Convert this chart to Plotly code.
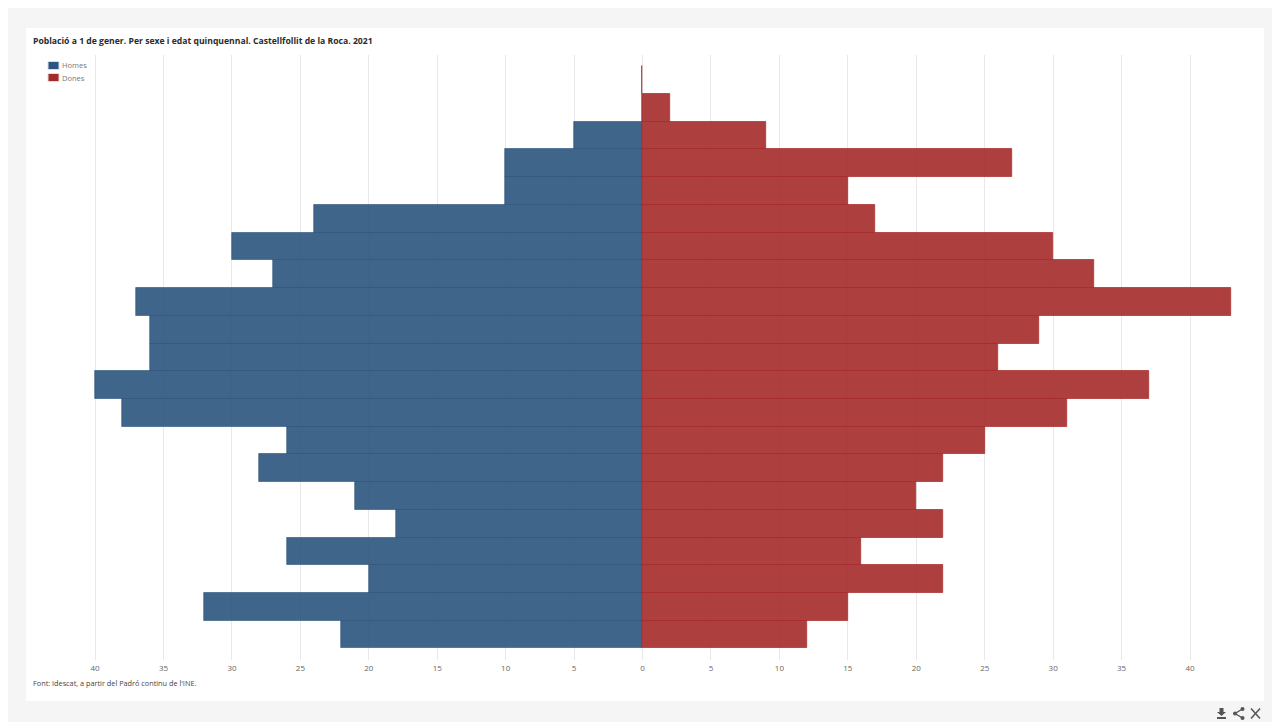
import plotly.graph_objects as go

W, H = 1280, 722

age_groups = ["0-4", "5-9", "10-14", "15-19", "20-24", "25-29", "30-34", "35-39", "40-44", "45-49",
              "50-54", "55-59", "60-64", "65-69", "70-74", "75-79", "80-84", "85-89", "90-94", "95-99", "100+"]
homes = [22, 32, 20, 26, 18, 21, 28, 26, 38, 40, 36, 36, 37, 27, 30, 24, 10, 10, 5, 0, 0]
dones = [12, 15, 22, 16, 22, 20, 22, 25, 31, 37, 26, 29, 43, 33, 30, 17, 15, 27, 9, 2, 0]
tick_values = [-40, -35, -30, -25, -20, -15, -10, -5, 0, 5, 10, 15, 20, 25, 30, 35, 40]
tick_labels = ["40", "35", "30", "25", "20", "15", "10", "5", "0", "5", "10", "15", "20", "25", "30", "35", "40"]

TITLE = "Població a 1 de gener. Per sexe i edat quinquennal. Castellfollit de la Roca. 2021"
SOURCE = "Font: Idescat, a partir del Padró continu de l'INE."
FONT = "Open Sans"


def px(x):
    return x / W


def py(y):
    return 1 - y / H


def rect(x0, y0, x1, y1, color, layer="below", line=None):
    return dict(type="rect", xref="paper", yref="paper", x0=px(x0), x1=px(x1), y0=py(y0), y1=py(y1),
                fillcolor=color, line=line or dict(width=0), layer=layer)


def poly(points, color):
    d = "M" + "L".join(f"{px(x):.5f},{py(y):.5f}" for x, y in points) + "Z"
    return dict(type="path", xref="paper", yref="paper", path=d, fillcolor=color, line_width=0)


def stroke(points, color, width=1.6):
    d = "M" + "L".join(f"{px(x):.5f},{py(y):.5f}" for x, y in points)
    return dict(type="path", xref="paper", yref="paper", path=d, line=dict(color=color, width=width))


def dot(cx, cy, r, color):
    return dict(type="circle", xref="paper", yref="paper", x0=px(cx - r), x1=px(cx + r),
                y0=py(cy + r), y1=py(cy - r), fillcolor=color, line_width=0)


fig = go.Figure()
fig.add_bar(y=age_groups, x=[-v for v in homes], name="Homes", orientation="h", showlegend=False,
            marker=dict(color="rgba(43,84,125,0.9)",
                        line=dict(color="rgba(44,80,120,0.6)", width=[1 if v else 0 for v in homes])),
            customdata=homes, hovertemplate="%{y}: %{customdata}<extra>Homes</extra>")
fig.add_bar(y=age_groups, x=dones, name="Dones", orientation="h", showlegend=False,
            marker=dict(color="rgba(165,42,42,0.9)", line=dict(color="rgba(165,42,42,0.7)", width=1)),
            hovertemplate="%{y}: %{x}<extra>Dones</extra>")

icon = "#555555"
swatch_border = dict(color="#dddddd", width=1)
shapes = [
    rect(8, 8, 1272, 722, "#f5f5f5"),
    rect(26, 28, 1264, 701, "#ffffff"),
    # legend swatches
    rect(48, 61.5, 59, 69.5, "#2c5585", "above", swatch_border),
    rect(48, 73.5, 59, 81.5, "#a52a2a", "above", swatch_border),
    # download
    poly([(1219.5, 708), (1223.5, 708), (1223.5, 712), (1226, 712), (1221.5, 716), (1217, 712), (1219.5, 712)], icon),
    rect(1217, 717, 1226, 719, icon, "above"),
    # share
    stroke([(1242.5, 709), (1235, 713.5), (1242.5, 718)], icon, 1.4),
    dot(1235, 713.5, 2, icon),
    dot(1242.5, 709, 2, icon),
    dot(1242.5, 718, 2, icon),
    # close
    stroke([(1251, 708.5), (1260, 718.5)], icon, 1.5),
    stroke([(1260, 708.5), (1251, 718.5)], icon, 1.5),
]

fig.update_layout(
    width=W, height=H, autosize=False,
    margin=dict(l=0, r=0, t=0, b=0),
    paper_bgcolor="#ffffff", plot_bgcolor="rgba(0,0,0,0)",
    font=dict(family=FONT, size=8, color="#666666"),
    barmode="relative", bargap=0,
    showlegend=False,
    xaxis=dict(domain=[px(47.2), px(1237.9)], range=[-43.5, 43.5], tickvals=tick_values, ticktext=tick_labels,
               showgrid=True, gridcolor="#e8e8e8", gridwidth=1, zeroline=False, showline=False,
               ticks="", tickfont=dict(size=8, color="#666666"), anchor="y", ticklabelstandoff=2),
    yaxis=dict(domain=[py(660), py(55)], range=[-0.915, 20.905], type="category", categoryorder="array",
               categoryarray=age_groups, showticklabels=False, showgrid=False, zeroline=False, ticks=""),
    shapes=shapes,
    annotations=[
        dict(text=f"<b>{TITLE}</b>", xref="paper", yref="paper", x=px(33), y=py(41), xanchor="left", yanchor="middle",
             showarrow=False, xshift=-2, font=dict(family=FONT, size=8.65, color="#2b2b2b")),
        dict(text=SOURCE, xref="paper", yref="paper", x=px(33), y=py(683), xanchor="left", yanchor="middle",
             showarrow=False, xshift=-2, font=dict(family=FONT, size=7.3, color="#444444")),
        dict(text="Homes", xref="paper", yref="paper", x=px(62), y=py(65.5), xanchor="left", yanchor="middle",
             showarrow=False, xshift=-2, font=dict(family=FONT, size=7.5, color="#777777")),
        dict(text="Dones", xref="paper", yref="paper", x=px(62), y=py(77.5), xanchor="left", yanchor="middle",
             showarrow=False, xshift=-2, font=dict(family=FONT, size=7.5, color="#777777")),
    ],
)

fig.write_html("out.html", post_script="document.body.style.margin='0';document.body.style.overflow='hidden';",
               config=dict(displayModeBar=False))
